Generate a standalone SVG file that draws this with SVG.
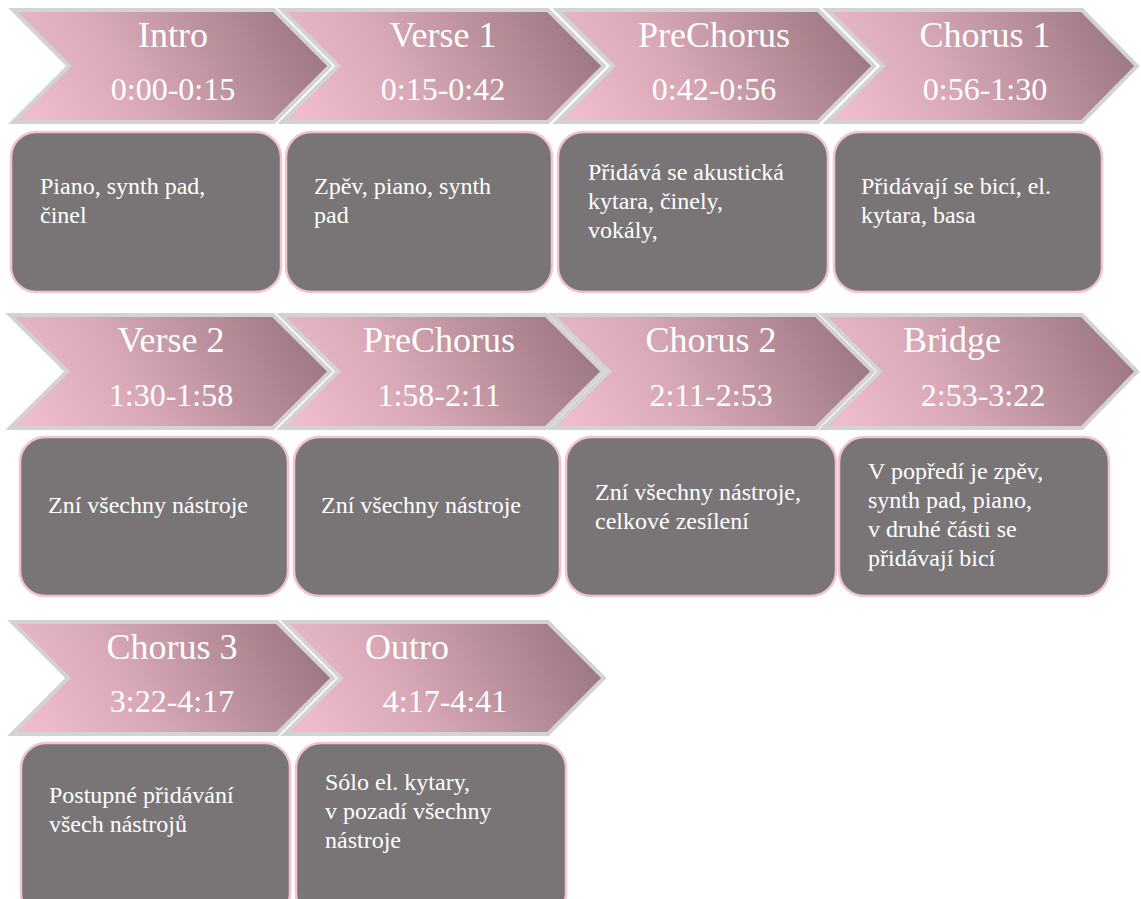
<svg xmlns="http://www.w3.org/2000/svg" width="1141" height="899" viewBox="0 0 1141 899">
<defs>
<linearGradient id="pg" x1="0" y1="0.6" x2="1" y2="0.4">
<stop offset="0" stop-color="#eebccb"/>
<stop offset="0.35" stop-color="#d9a9b7"/>
<stop offset="1" stop-color="#9b7681"/>
</linearGradient>
</defs>
<style>
.chev{fill:url(#pg);stroke:#d3d3d3;stroke-width:4;stroke-linejoin:miter}
.box{fill:#797577;stroke:#f2c4d0;stroke-width:2.5}
.t{font-family:"Liberation Serif","Times New Roman",serif;fill:#ffffff}
.ti{font-size:36px;text-anchor:middle}
.tm{font-size:32px;text-anchor:middle}
.bt{font-size:24px}
</style>
<rect width="1141" height="899" fill="#ffffff"/>
<g id="connectors"></g>

<g id="intro">
<polygon class="chev" points="13,10 274,10 330,66 274,122 13,122 69,66"/>
<text class="t ti" x="173" y="47">Intro</text>
<text class="t tm" x="173" y="100">0:00-0:15</text>
<rect class="box" x="11" y="132" width="270" height="160" rx="25"/>
<text class="t bt" x="40" y="194">Piano, synth pad,</text>
<text class="t bt" x="40" y="223">činel</text>
</g>

<g id="verse1">
<polygon class="chev" points="282,10 548,10 604,66 548,122 282,122 338,66"/>
<text class="t ti" x="443" y="47">Verse 1</text>
<text class="t tm" x="443" y="100">0:15-0:42</text>
<rect class="box" x="286" y="132" width="266" height="160" rx="25"/>
<text class="t bt" x="314" y="194">Zpěv, piano, synth</text>
<text class="t bt" x="314" y="223">pad</text>
</g>

<g id="prechorus1">
<polygon class="chev" points="557,10 818,10 874,66 818,122 557,122 613,66"/>
<text class="t ti" x="714" y="47">PreChorus</text>
<text class="t tm" x="714" y="100">0:42-0:56</text>
<rect class="box" x="558" y="132" width="270" height="160" rx="25"/>
<text class="t bt" x="588" y="180">Přidává se akustická</text>
<text class="t bt" x="588" y="209">kytara, činely,</text>
<text class="t bt" x="588" y="238">vokály,</text>
</g>

<g id="chorus1">
<polygon class="chev" points="827,10 1082,10 1137,66 1082,122 827,122 883,66"/>
<text class="t ti" x="985" y="47">Chorus 1</text>
<text class="t tm" x="985" y="100">0:56-1:30</text>
<rect class="box" x="834" y="132" width="268" height="160" rx="25"/>
<text class="t bt" x="861" y="194">Přidávají se bicí, el.</text>
<text class="t bt" x="861" y="223">kytara, basa</text>
</g>

<g id="verse2">
<polygon class="chev" points="10,315 273,315 330,371.5 273,428 10,428 67,371.5"/>
<text class="t ti" x="171" y="352">Verse 2</text>
<text class="t tm" x="171" y="406">1:30-1:58</text>
<rect class="box" x="20" y="437" width="268" height="159" rx="25"/>
<text class="t bt" x="48" y="513">Zní všechny nástroje</text>
</g>

<g id="prechorus2">
<polygon class="chev" points="281,315 546,315 603,371.5 546,428 281,428 338,371.5"/>
<text class="t ti" x="439" y="352">PreChorus</text>
<text class="t tm" x="439" y="406">1:58-2:11</text>
<rect class="box" x="294" y="437" width="266" height="159" rx="25"/>
<text class="t bt" x="321" y="513">Zní všechny nástroje</text>
</g>

<g id="chorus2">
<polygon class="chev" points="552,315 816,315 873,371.5 816,428 552,428 609,371.5"/>
<text class="t ti" x="711" y="352">Chorus 2</text>
<text class="t tm" x="711" y="406">2:11-2:53</text>
<rect class="box" x="566" y="437" width="270" height="159" rx="25"/>
<text class="t bt" x="595" y="500">Zní všechny nástroje,</text>
<text class="t bt" x="595" y="529">celkové zesílení</text>
</g>

<g id="bridge">
<polygon class="chev" points="823,315 1082,315 1137,371.5 1082,428 823,428 880,371.5"/>
<text class="t ti" x="952" y="352">Bridge</text>
<text class="t tm" x="983" y="406">2:53-3:22</text>
<rect class="box" x="839" y="437" width="270" height="159" rx="25"/>
<text class="t bt" x="868" y="479">V popředí je zpěv,</text>
<text class="t bt" x="868" y="508">synth pad, piano,</text>
<text class="t bt" x="868" y="537">v druhé části se</text>
<text class="t bt" x="868" y="566">přidávají bicí</text>
</g>

<g id="chorus3">
<polygon class="chev" points="12,622 277,622 333,678 277,734 12,734 68,678"/>
<text class="t ti" x="172" y="659">Chorus 3</text>
<text class="t tm" x="172" y="712">3:22-4:17</text>
<rect class="box" x="21" y="743" width="269" height="175" rx="25"/>
<text class="t bt" x="49" y="803">Postupné přidávání</text>
<text class="t bt" x="49" y="832">všech nástrojů</text>
</g>

<g id="outro">
<polygon class="chev" points="285,622 548,622 604,678 548,734 285,734 341,678"/>
<text class="t ti" x="407" y="659">Outro</text>
<text class="t tm" x="445" y="712">4:17-4:41</text>
<rect class="box" x="296" y="743" width="270" height="175" rx="25"/>
<text class="t bt" x="325" y="790">Sólo el. kytary,</text>
<text class="t bt" x="325" y="819">v pozadí všechny</text>
<text class="t bt" x="325" y="848">nástroje</text>
</g>
</svg>
